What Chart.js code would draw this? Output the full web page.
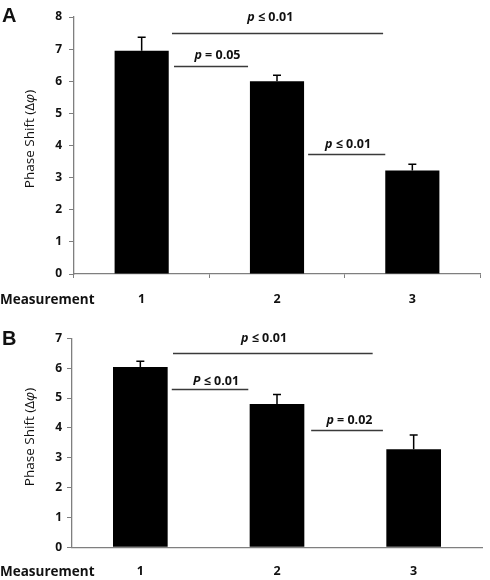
<!DOCTYPE html>
<html><head><meta charset="utf-8">
<script src="https://cdn.jsdelivr.net/npm/chart.js@4.4.1/dist/chart.umd.min.js"></script>
<style>
html,body{margin:0;padding:0;background:#fff;width:490px;height:580px;overflow:hidden}
.wrap{position:absolute;left:0;width:490px}
#wa{top:0;height:312px}
#wb{top:312px;height:268px}
</style></head><body>
<div class="wrap" id="wa"><canvas id="ca" width="490" height="312"></canvas></div>
<div class="wrap" id="wb"><canvas id="cb" width="490" height="268"></canvas></div>
<script>
// ---- data ----
const categories = ['1', '2', '3'];
const aMeans = [6.95, 6.00, 3.22];
const aErrors = [0.42, 0.19, 0.20];
const bMeans = [6.04, 4.80, 3.28];
const bErrors = [0.19, 0.32, 0.48];
const aYMax = 8;
const bYMax = 7;
const xAxisName = 'Measurement';
const yTitleParts = ['Phase Shift (Δ', 'φ', ')'];
// significance brackets: x in category index units, y in data units
const aBrackets = [
  {x0: 0.224, x1: 1.784, y: 7.50, pItalic: 'p', rest: ' ≤ 0.01', tx: 0.95, ty: 7.98},
  {x0: 0.239, x1: 0.786, y: 6.49, pItalic: 'p', rest: ' = 0.05', tx: 0.56, ty: 6.79},
  {x0: 1.230, x1: 1.800, y: 3.75, pItalic: 'p', rest: ' ≤ 0.01', tx: 1.525, ty: 4.02}
];
const bBrackets = [
  {x0: 0.239, x1: 1.700, y: 6.51, pItalic: 'p', rest: ' ≤ 0.01', tx: 0.905, ty: 7.00},
  {x0: 0.230, x1: 0.790, y: 5.29, pItalic: 'P', rest: ' ≤ 0.01', tx: 0.553, ty: 5.55},
  {x0: 1.250, x1: 1.775, y: 3.94, pItalic: 'p', rest: ' = 0.02', tx: 1.530, ty: 4.24}
];

const FONT = '"Open Sans", "Liberation Sans", sans-serif';

function extrasPlugin(opts) {
  return {
    id: 'extras',
    afterDatasetsDraw(chart) {
      const ctx = chart.ctx;
      const xs = chart.scales.x, ys = chart.scales.y;
      const meta = chart.getDatasetMeta(0);
      // error bars
      ctx.save();
      ctx.strokeStyle = '#000';
      ctx.lineWidth = 1.5;
      meta.data.forEach((bar, i) => {
        const yTop = ys.getPixelForValue(opts.means[i] + opts.errors[i]);
        const yBar = ys.getPixelForValue(opts.means[i]);
        ctx.beginPath();
        ctx.moveTo(bar.x, yBar);
        ctx.lineTo(bar.x, yTop);
        ctx.moveTo(bar.x - 4, yTop);
        ctx.lineTo(bar.x + 4, yTop);
        ctx.stroke();
      });
      ctx.restore();
      // brackets
      ctx.save();
      opts.brackets.forEach(b => {
        const px0 = xs.getPixelForValue(b.x0), px1 = xs.getPixelForValue(b.x1);
        const py = Math.round(ys.getPixelForValue(b.y)) + 0.5;
        ctx.strokeStyle = '#3a3a3a';
        ctx.lineWidth = 1.6;
        ctx.beginPath();
        ctx.moveTo(px0, py);
        ctx.lineTo(px1, py);
        ctx.stroke();
        const tx = xs.getPixelForValue(b.tx), ty = ys.getPixelForValue(b.ty);
        ctx.fillStyle = '#111';
        ctx.textBaseline = 'middle';
        ctx.font = 'italic bold 12.5px ' + FONT;
        const w1 = ctx.measureText(b.pItalic).width;
        ctx.font = 'bold 12.5px ' + FONT;
        const w2 = ctx.measureText(b.rest).width;
        const sx = tx - (w1 + w2) / 2;
        ctx.textAlign = 'left';
        ctx.font = 'italic bold 12.5px ' + FONT;
        ctx.fillText(b.pItalic, sx, ty);
        ctx.font = 'bold 12.5px ' + FONT;
        ctx.fillText(b.rest, sx + w1, ty);
      });
      ctx.restore();
      // y title
      ctx.save();
      ctx.fillStyle = '#111';
      ctx.textBaseline = 'middle';
      const f0 = '13.5px ' + FONT, f1 = 'italic 13.5px ' + FONT;
      ctx.font = f0; const wa = ctx.measureText(yTitleParts[0]).width;
      ctx.font = f1; const wb = ctx.measureText(yTitleParts[1]).width;
      ctx.font = f0; const wc = ctx.measureText(yTitleParts[2]).width;
      ctx.translate(opts.titleX, opts.titleY);
      ctx.rotate(-Math.PI / 2);
      const sx = -(wa + wb + wc) / 2;
      ctx.textAlign = 'left';
      ctx.font = f0; ctx.fillText(yTitleParts[0], sx, 0);
      ctx.font = f1; ctx.fillText(yTitleParts[1], sx + wa, 0);
      ctx.font = f0; ctx.fillText(yTitleParts[2], sx + wa + wb, 0);
      ctx.restore();
      // x axis name and panel letter
      ctx.save();
      ctx.fillStyle = '#111';
      ctx.textBaseline = 'middle';
      ctx.textAlign = 'left';
      ctx.font = 'bold 13.5px ' + FONT;
      ctx.fillText(xAxisName, 0, opts.nameY);
      ctx.font = 'bold 20px "Liberation Sans", Arial, sans-serif';
      ctx.fillText(opts.letter, 2, opts.letterY);
      ctx.restore();
    }
  };
}

function makeChart(id, o) {
  return new Chart(document.getElementById(id), {
    type: 'bar',
    data: {
      labels: categories,
      datasets: [{
        data: o.means,
        backgroundColor: '#000',
        borderWidth: 0,
        barPercentage: 0.40,
        categoryPercentage: 1.0
      }]
    },
    options: {
      responsive: false,
      animation: false,
      events: [],
      layout: {padding: {left: 0, right: o.padRight, top: o.padTop, bottom: 0}},
      plugins: {legend: {display: false}, tooltip: {enabled: false}, title: {display: false}},
      scales: {
        x: {
          type: 'category',
          offset: true,
          grid: o.xTicks
            ? {display: true, drawOnChartArea: false, drawTicks: true, tickLength: 4, color: '#7f7f7f', offset: true}
            : {display: false, drawTicks: false},
          border: {display: true, color: '#7f7f7f', width: 1.3},
          ticks: {color: '#111', font: {family: FONT, size: 12.5, weight: 'bold'}, padding: o.xPad, maxRotation: 0},
          afterFit(s) { s.height = o.xHeight; }
        },
        y: {
          min: 0, max: o.max,
          grid: {display: true, drawOnChartArea: false, drawTicks: true, tickLength: 5, color: '#7f7f7f'},
          border: {display: true, color: '#7f7f7f', width: 1.3},
          ticks: {stepSize: 1, color: '#111', font: {family: FONT, size: 12, weight: 'bold'}, padding: o.yPad},
          afterFit(s) { s.width = o.yWidth; }
        }
      }
    },
    plugins: [extrasPlugin(o)]
  });
}

makeChart('ca', {
  means: aMeans, errors: aErrors, max: aYMax, brackets: aBrackets,
  padTop: 17, padRight: 10, yWidth: 74, xHeight: 38, xTicks: true, xPad: 14, yPad: 7,
  titleX: 30, titleY: 139, nameY: 300, letter: 'A', letterY: 16
});
makeChart('cb', {
  means: bMeans, errors: bErrors, max: bYMax, brackets: bBrackets,
  padTop: 26.3, padRight: 8, yWidth: 72, xHeight: 32.7, xTicks: false, xPad: 17, yPad: 5,
  titleX: 30, titleY: 125, nameY: 259.7, letter: 'B', letterY: 27
});
</script>
</body></html>
